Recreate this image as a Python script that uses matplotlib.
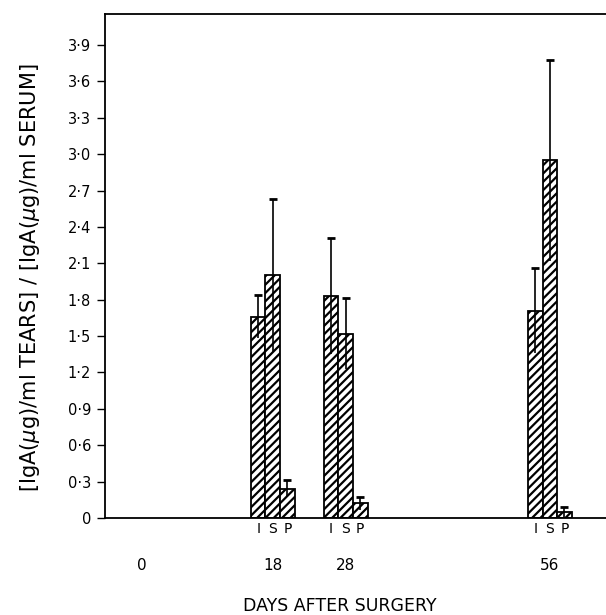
import matplotlib
matplotlib.use("Agg")
import matplotlib.pyplot as plt
import numpy as np

# values
days = [18, 28, 56]
groups = ["I", "S", "P"]
ratio_I = [1.66, 1.83, 1.71]
ratio_S = [2.00, 1.52, 2.95]
ratio_P = [0.24, 0.12, 0.05]
err_I = [0.18, 0.48, 0.35]
err_S = [0.63, 0.29, 0.83]
err_P = [0.07, 0.05, 0.04]
day_ticks = [0, 18, 28, 56]
y_ticks = [0, 0.3, 0.6, 0.9, 1.2, 1.5, 1.8, 2.1, 2.4, 2.7, 3.0, 3.3, 3.6, 3.9]

plt.rcParams['font.family'] = ['DejaVu Sans']
plt.rcParams['hatch.linewidth'] = 1.6

fig = plt.figure(figsize=(6.06, 6.15), dpi=100)
ax = fig.add_axes([0.1733, 0.1577, 0.8267, 0.8195])

width = 2.0
offsets = [-width, 0, width]
values = [ratio_I, ratio_S, ratio_P]
errors = [err_I, err_S, err_P]

xpos_all, xlab_all = [], []
for off, vals, errs, g in zip(offsets, values, errors, groups):
    x = np.array(days) + off
    ax.bar(x, vals, width=width, facecolor='white', edgecolor='black',
           linewidth=1.3, hatch='////', zorder=2)
    ax.errorbar(x, vals, yerr=errs, fmt='none', ecolor='black',
                elinewidth=1.2, capsize=0, zorder=3)
    ax.plot(x, np.array(vals) + np.array(errs), ls='none', marker='_',
            ms=6, mew=2, color='black', zorder=3)
    xpos_all += list(x)
    xlab_all += [g] * len(x)

ax.set_xlim(-5, 63.7)
ax.set_ylim(0, 4.155)

ax.set_yticks(y_ticks)
ax.set_yticklabels(['0' if v == 0 else f"{v:.1f}".replace('.', '\u00b7') for v in y_ticks])
ax.tick_params(axis='y', direction='out', length=6, width=1, pad=4, labelsize=10.5)

ax.set_xticks(xpos_all)
ax.set_xticklabels(xlab_all)
ax.set_xticks(day_ticks, minor=True)
ax.set_xticklabels([str(d) for d in day_ticks], minor=True)
ax.xaxis.remove_overlapping_locs = False
ax.tick_params(axis='x', which='major', length=0, pad=3, labelsize=10)
ax.tick_params(axis='x', which='minor', length=0, pad=29, labelsize=11)

for s in ['left', 'bottom', 'top']:
    ax.spines[s].set_linewidth(1.3)
ax.spines['right'].set_visible(False)

fig.text(340 / 606, 1 - 606 / 615, "DAYS AFTER SURGERY", ha='center', va='center',
         fontsize=12.5)
fig.text(30 / 606, 1 - 278 / 615,
         r'$\left[\mathrm{IgA}(\mu \mathrm{g})/\mathrm{ml\ TEARS}\right]\ /\ '
         r'\left[\mathrm{IgA}(\mu \mathrm{g})/\mathrm{ml\ SERUM}\right]$',
         rotation=90, ha='center', va='center', fontsize=15)

fig.savefig("out.png", dpi=100)
